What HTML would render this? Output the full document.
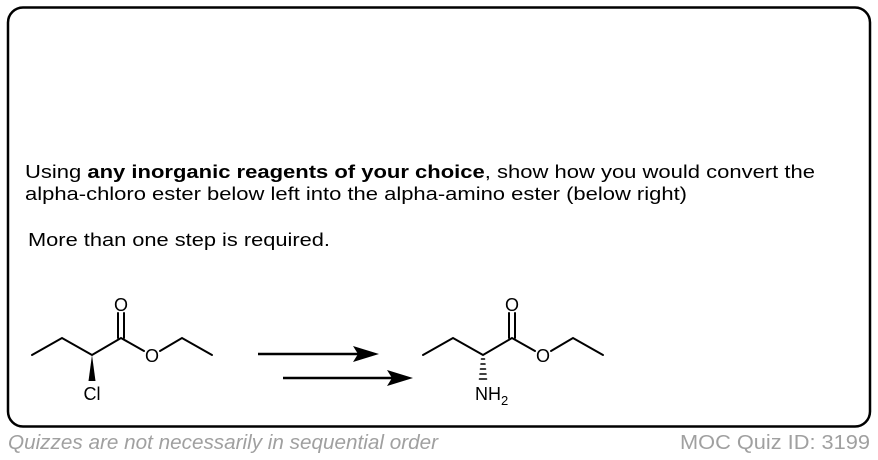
<!DOCTYPE html>
<html><head><style>
html,body{margin:0;padding:0;background:#fff;}
svg{display:block;font-family:"Liberation Sans",Arial,sans-serif;}
</style></head><body>
<svg width="878" height="460" viewBox="0 0 878 460" xmlns="http://www.w3.org/2000/svg">
<rect x="8" y="7.5" width="862" height="419" rx="15" ry="15" fill="#fff" stroke="#000" stroke-width="2.5"/>
<text x="25" y="178" font-size="18" textLength="790" lengthAdjust="spacingAndGlyphs">Using <tspan font-weight="bold">any inorganic reagents of your choice</tspan>, show how you would convert the</text>
<text x="25" y="200" font-size="18" textLength="662" lengthAdjust="spacingAndGlyphs">alpha-chloro ester below left into the alpha-amino ester (below right)</text>
<text x="28" y="246" font-size="18" textLength="302" lengthAdjust="spacingAndGlyphs">More than one step is required.</text>

<g stroke="#000" stroke-width="2" fill="none" stroke-linecap="round">
  <polyline points="32,355 62,338 92,355 121,338 144,351"/>
  <polyline points="160,351 182,338 212,355"/>
  <line x1="118" y1="338" x2="118" y2="313"/>
  <line x1="124" y1="338" x2="124" y2="313"/>
</g>
<polygon points="92,355 88.5,381 95.5,381" fill="#000"/>
<text x="121" y="311" font-size="18" text-anchor="middle">O</text>
<text x="152" y="362" font-size="18" text-anchor="middle">O</text>
<text x="92" y="400" font-size="18" text-anchor="middle">Cl</text>

<g transform="translate(391,0)">
<g stroke="#000" stroke-width="2" fill="none" stroke-linecap="round">
  <polyline points="32,355 62,338 92,355 121,338 144,351"/>
  <polyline points="160,351 182,338 212,355"/>
  <line x1="118" y1="338" x2="118" y2="313"/>
  <line x1="124" y1="338" x2="124" y2="313"/>
  <g stroke-width="1.6">
  <line x1="90.5" y1="359" x2="93.5" y2="359"/>
  <line x1="90" y1="364" x2="94" y2="364"/>
  <line x1="89.5" y1="369" x2="94.5" y2="369"/>
  <line x1="89" y1="374" x2="95" y2="374"/>
  <line x1="88.5" y1="379" x2="95.5" y2="379"/>
  </g>
</g>
<text x="121" y="311" font-size="18" text-anchor="middle">O</text>
<text x="152" y="362" font-size="18" text-anchor="middle">O</text>
<text x="84" y="400" font-size="18">NH<tspan font-size="13" dy="5">2</tspan></text>
</g>

<g stroke="#000" stroke-width="2.5">
  <line x1="258" y1="354" x2="360" y2="354"/>
  <line x1="283" y1="378" x2="394" y2="378"/>
</g>
<polygon points="379,354 353,346 358,354 353,362" fill="#000"/>
<polygon points="413,378 387,370 392,378 387,386" fill="#000"/>

<text x="8" y="449" font-size="20" font-style="italic" fill="#a0a0a0" textLength="430" lengthAdjust="spacingAndGlyphs">Quizzes are not necessarily in sequential order</text>
<text x="680" y="449" font-size="20" fill="#a0a0a0" textLength="190" lengthAdjust="spacingAndGlyphs">MOC Quiz ID: 3199</text>
</svg>
</body></html>
